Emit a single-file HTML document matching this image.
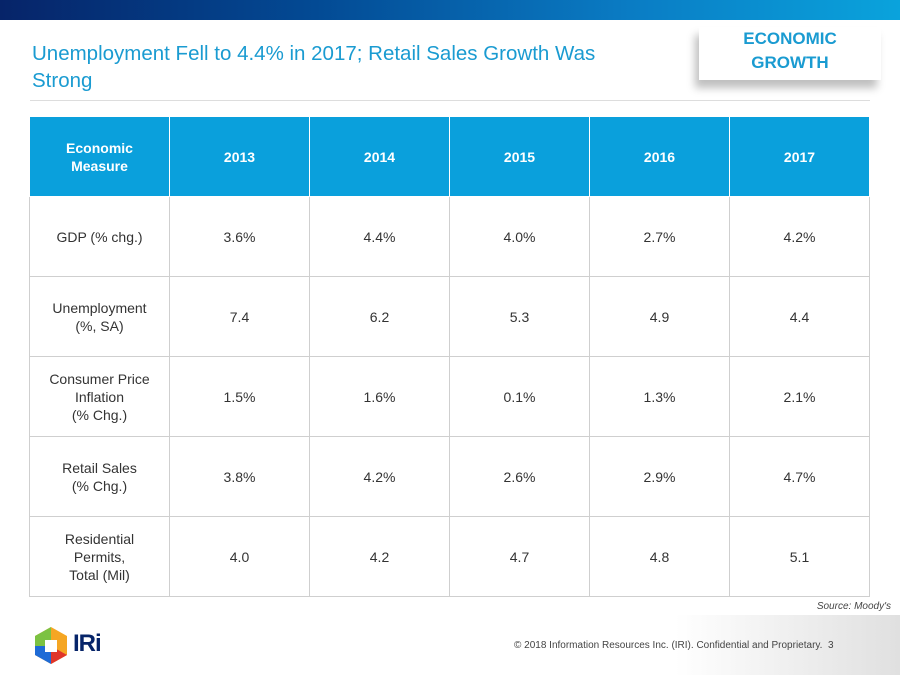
<!DOCTYPE html>
<html><head><meta charset="utf-8"><style>
body{margin:0;width:900px;height:675px;position:relative;overflow:hidden;background:#fff;font-family:"Liberation Sans","Noto Sans CJK SC",sans-serif;}
.topbar{position:absolute;left:0;top:0;width:900px;height:20px;background:linear-gradient(90deg,#062469 0%,#034a94 35%,#0a7cc4 70%,#0aa3dc 100%);}
.title{position:absolute;left:32px;top:40px;width:600px;font-size:20.5px;line-height:27px;color:#1a9bd1;}
.rule{position:absolute;left:30px;top:100px;width:840px;height:1px;background:#ddd;}
.badge{position:absolute;left:699px;top:27px;width:182px;height:53px;background:#fff;box-shadow:-4px 8px 8px rgba(0,0,0,0.25);text-align:center;color:#1a9bd1;font-weight:bold;font-size:17px;line-height:24px;}
table{position:absolute;left:29px;top:117px;border-collapse:collapse;}
td,th{border:1px solid #cfcfcf;height:79px;text-align:center;font-size:14px;color:#333;font-weight:normal;padding:0;line-height:18px;}
th{background:#0aa0dc;color:#fff;font-weight:bold;border-color:#fff;border-top:none;}
th.c0{width:139px;} th.c{width:139px;}
.source{position:absolute;right:9px;top:601px;font-size:10px;font-style:italic;color:#444;}
.foot{position:absolute;left:0;top:615px;width:900px;height:60px;background:linear-gradient(90deg,#fff 0%,#fff 75%,#e0e0e0 100%);}
.copy{position:absolute;left:514px;top:640px;font-size:10px;color:#444;}
.pnum{position:absolute;left:828px;top:640px;font-size:10px;color:#444;}
.logo-txt{position:absolute;left:73px;top:630px;font-size:24px;font-weight:bold;color:#062469;letter-spacing:-1px;}
</style></head><body>
<div class="topbar"></div>
<div class="title">Unemployment Fell to 4.4% in 2017; Retail Sales Growth Was Strong</div>
<div class="rule"></div>
<div class="badge">ECONOMIC<br>GROWTH</div>
<table>
<tr><th class="c0">Economic<br>Measure</th><th class="c">2013</th><th class="c">2014</th><th class="c">2015</th><th class="c">2016</th><th class="c">2017</th></tr>
<tr><td>GDP (% chg.)</td><td>3.6%</td><td>4.4%</td><td>4.0%</td><td>2.7%</td><td>4.2%</td></tr>
<tr><td>Unemployment<br>(%, SA)</td><td>7.4</td><td>6.2</td><td>5.3</td><td>4.9</td><td>4.4</td></tr>
<tr><td>Consumer Price<br>Inflation<br>(% Chg.)</td><td>1.5%</td><td>1.6%</td><td>0.1%</td><td>1.3%</td><td>2.1%</td></tr>
<tr><td>Retail Sales<br>(% Chg.)</td><td>3.8%</td><td>4.2%</td><td>2.6%</td><td>2.9%</td><td>4.7%</td></tr>
<tr><td>Residential<br>Permits,<br>Total (Mil)</td><td>4.0</td><td>4.2</td><td>4.7</td><td>4.8</td><td>5.1</td></tr>
</table>
<div class="foot"></div>
<div class="source">Source: Moody's</div>
<svg style="position:absolute;left:34px;top:627px" width="34" height="38">
<polygon points="17,0 33,9 33,28 17,37 1,28 1,9" fill="#f5a623"/>
<polygon points="17,0 1,9 1,19 17,19" fill="#7cc242"/>
<polygon points="1,19 1,28 17,37 17,19" fill="#1e6bd6"/>
<polygon points="17,19 33,28 17,37" fill="#e0352b"/>
<rect x="11" y="13" width="12" height="12" fill="#fff"/>
</svg>
<div class="logo-txt">IRi</div>
<div class="copy">© 2018 Information Resources Inc. (IRI). Confidential and Proprietary.</div>
<div class="pnum">3</div>
</body></html>
